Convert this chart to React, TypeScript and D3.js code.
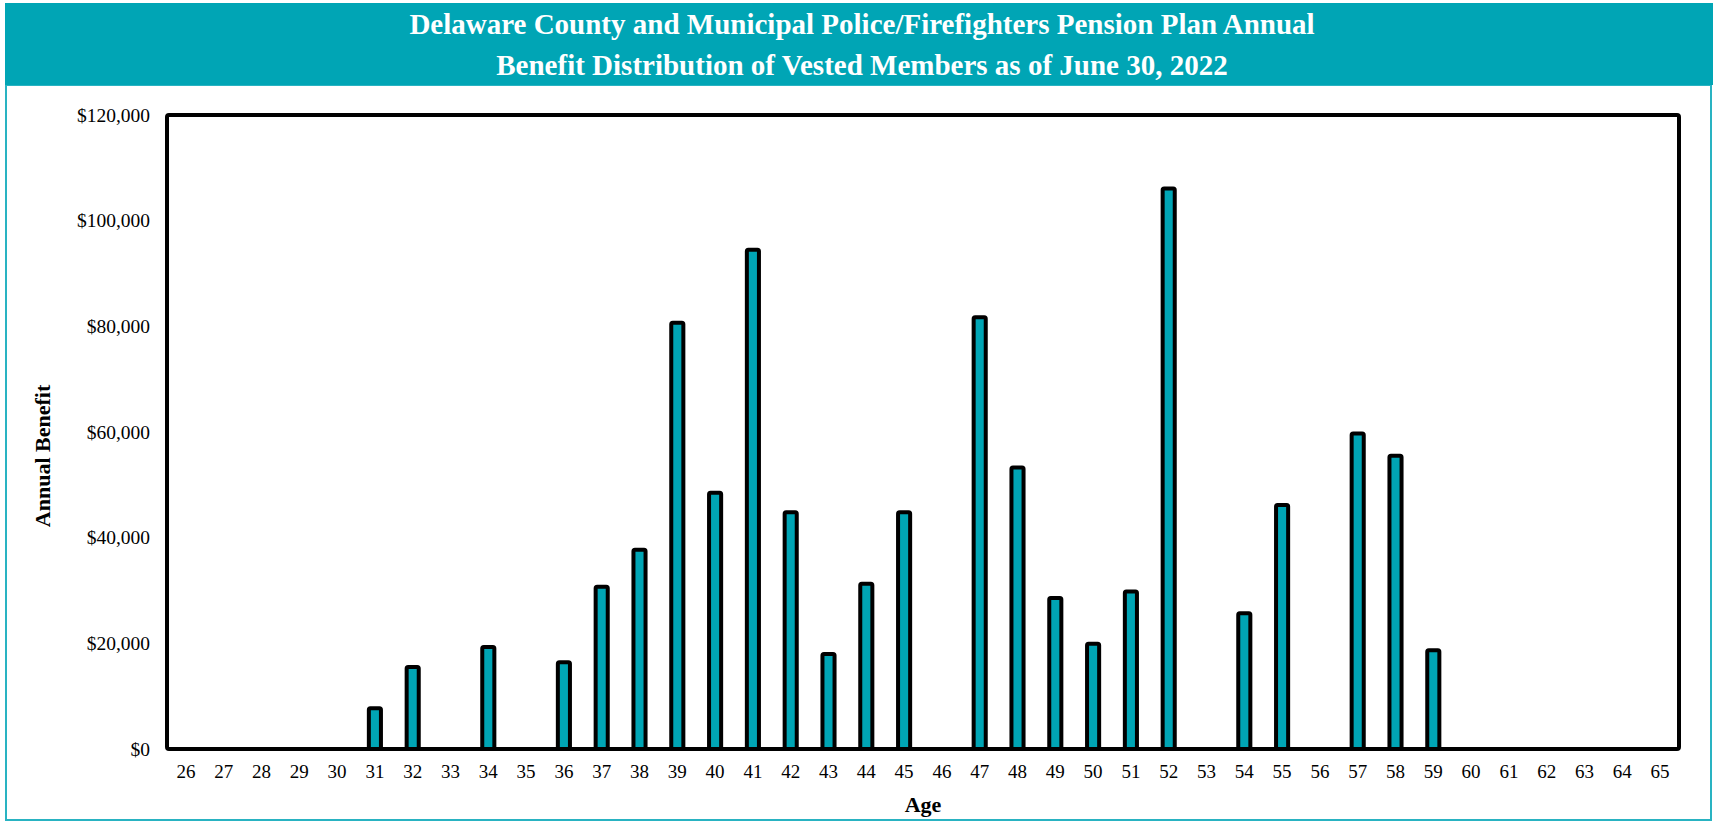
import React, { useEffect, useRef } from 'react';
import * as d3 from 'd3';

// Ages on the x axis
const ages = d3.range(26, 66).map(String);

// Annual benefit per age (0 = no vested members at that age)
const benefits = [
  0, 0, 0, 0, 0, 7700, 15500, 0, 19300, 0,
  16400, 30700, 37700, 80700, 48500, 94500, 44800, 18000, 31300, 44800,
  0, 81700, 53300, 28600, 19900, 29800, 106100, 0, 25700, 46200,
  0, 59700, 55500, 18700, 0, 0, 0, 0, 0, 0,
];

const yTicks = [0, 20000, 40000, 60000, 80000, 100000, 120000];

const titleLines = [
  'Delaware County and Municipal Police/Firefighters Pension Plan Annual',
  'Benefit Distribution of Vested Members as of June 30, 2022',
];

const TEAL = '#00a5b5';

const App = () => {
  const svgRef = useRef(null);

  useEffect(() => {
    const W = 1713;
    const H = 822;
    const plot = { left: 167, top: 115, right: 1679, bottom: 749 };

    const root = d3.select(svgRef.current);
    root.selectAll('*').remove();
    root.attr('width', W).attr('height', H).style('font-family', '"Liberation Serif", "Times New Roman", serif');

    // header band + outer box
    root.append('rect')
      .attr('x', 6).attr('y', 85).attr('width', W - 8).attr('height', H - 87)
      .attr('fill', 'white').attr('stroke', '#29b3c2').attr('stroke-width', 2);
    root.append('rect')
      .attr('x', 5).attr('y', 3).attr('width', W - 5).attr('height', 82)
      .attr('fill', TEAL);

    root.selectAll('.title')
      .data(titleLines)
      .enter().append('text')
      .attr('class', 'title')
      .attr('x', 862)
      .attr('y', (d, i) => 34 + i * 41)
      .attr('text-anchor', 'middle')
      .attr('fill', 'white')
      .attr('font-weight', 'bold')
      .attr('font-size', 29)
      .text(d => d);

    const data = ages.map((a, i) => ({ age: a, value: benefits[i] }));

    const x = d3.scaleBand()
      .domain(ages)
      .range([plot.left, plot.right])
      .paddingInner(0.68)
      .paddingOuter(0.34);

    const y = d3.scaleLinear()
      .domain([0, 120000])
      .range([plot.bottom, plot.top]);

    // bars
    root.selectAll('.bar')
      .data(data.filter(d => d.value > 0))
      .enter().append('rect')
      .attr('class', 'bar')
      .attr('x', d => x(d.age))
      .attr('y', d => y(d.value))
      .attr('width', x.bandwidth())
      .attr('height', d => y(0) - y(d.value))
      .attr('rx', 1.5)
      .attr('fill', TEAL)
      .attr('stroke', 'black')
      .attr('stroke-width', 4);

    // plot frame
    root.append('rect')
      .attr('x', plot.left).attr('y', plot.top)
      .attr('width', plot.right - plot.left).attr('height', plot.bottom - plot.top)
      .attr('rx', 2)
      .attr('fill', 'none')
      .attr('stroke', 'black')
      .attr('stroke-width', 4);

    // y axis labels
    const yAxis = root.append('g')
      .attr('transform', `translate(${plot.left - 17},0)`)
      .call(d3.axisLeft(y).tickValues(yTicks).tickSize(0).tickPadding(0)
        .tickFormat(d => '$' + d3.format(',')(d)));
    yAxis.select('.domain').remove();
    yAxis.selectAll('text')
      .attr('font-family', '"Liberation Serif", serif')
      .attr('font-size', 19.5)
      .attr('fill', 'black');

    // x axis labels
    const xAxis = root.append('g')
      .attr('transform', `translate(0,${plot.bottom})`)
      .call(d3.axisBottom(x).tickSize(0).tickPadding(16));
    xAxis.select('.domain').remove();
    xAxis.selectAll('text')
      .attr('font-family', '"Liberation Serif", serif')
      .attr('font-size', 19)
      .attr('fill', 'black');

    // axis titles
    root.append('text')
      .attr('x', (plot.left + plot.right) / 2)
      .attr('y', 812)
      .attr('text-anchor', 'middle')
      .attr('font-weight', 'bold')
      .attr('font-size', 22)
      .text('Age');

    root.append('text')
      .attr('transform', `translate(50,${(plot.top + plot.bottom) / 2 + 24}) rotate(-90)`)
      .attr('text-anchor', 'middle')
      .attr('font-weight', 'bold')
      .attr('font-size', 22)
      .text('Annual Benefit');
  }, []);

  return <svg ref={svgRef} style={{ position: 'absolute', left: 0, top: 0 }}></svg>;
};

export default App;
